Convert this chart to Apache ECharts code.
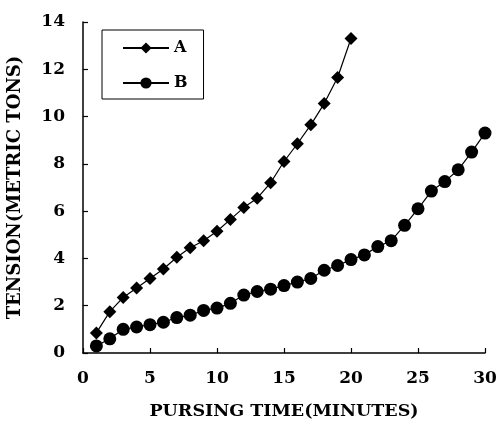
<!DOCTYPE html>
<html>
<head>
<meta charset="utf-8">
<script src="https://cdn.jsdelivr.net/npm/echarts@6/dist/echarts.min.js"></script>
<style>
  html, body { margin: 0; padding: 0; background: #fff; }
  #main { width: 499px; height: 433px; }
</style>
</head>
<body>
<div id="main"></div>
<script>
// 数据
let minutesA = [1,2,3,4,5,6,7,8,9,10,11,12,13,14,15,16,17,18,19,20];
let tensionA = [0.85,1.75,2.35,2.75,3.15,3.55,4.05,4.45,4.75,5.15,5.65,6.15,6.55,7.2,8.1,8.85,9.65,10.55,11.65,13.3];
let minutesB = [1,2,3,4,5,6,7,8,9,10,11,12,13,14,15,16,17,18,19,20,21,22,23,24,25,26,27,28,29,30];
let tensionB = [0.3,0.6,1.0,1.1,1.2,1.3,1.5,1.6,1.8,1.9,2.1,2.45,2.6,2.7,2.85,3.0,3.15,3.5,3.7,3.95,4.15,4.5,4.75,5.4,6.1,6.85,7.25,7.75,8.5,9.3];
let xTicks = [0,5,10,15,20,25,30];
let yTicks = [0,2,4,6,8,10,12,14];

let toPairs = (xs, ys) => xs.map((x, i) => [x, ys[i]]);

let font = 'DejaVu Serif';
let myChart = echarts.init(document.getElementById('main'));
let option = {
    backgroundColor: '#fff',
    animation: false,
    grid: { left: 83, right: 14, top: 22, bottom: 80, outerBoundsMode: 'none', containLabel: false },
    legend: {
        orient: 'vertical',
        left: 102,
        top: 30,
        padding: [10, 16, 8, 20],
        itemWidth: 46,
        itemHeight: 14,
        itemGap: 19,
        borderColor: '#000',
        borderWidth: 1,
        textStyle: { fontFamily: font, fontWeight: 'bold', fontSize: 16, color: '#000' },
        data: ['A', 'B']
    },
    xAxis: {
        type: 'value',
        min: xTicks[0],
        max: xTicks[xTicks.length - 1],
        interval: 5,
        name: 'PURSING TIME(MINUTES)',
        nameLocation: 'middle',
        nameGap: 49,
        nameTextStyle: { fontFamily: font, fontWeight: 'bold', fontSize: 17.5, color: '#000' },
        axisLine: { lineStyle: { color: '#000', width: 1.5 } },
        axisTick: { inside: true, length: 5, lineStyle: { color: '#000', width: 1.2 } },
        axisLabel: { margin: 17, fontFamily: font, fontWeight: 'bold', fontSize: 17, color: '#000' },
        splitLine: { show: false }
    },
    yAxis: {
        type: 'value',
        min: yTicks[0],
        max: yTicks[yTicks.length - 1],
        interval: 2,
        name: 'TENSION(METRIC TONS)',
        nameLocation: 'middle',
        nameRotate: 90,
        nameGap: 59,
        nameTextStyle: { fontFamily: font, fontWeight: 'bold', fontSize: 18, color: '#000' },
        axisLine: { show: true, lineStyle: { color: '#000', width: 1.5 } },
        axisTick: { show: true, inside: true, length: 5, lineStyle: { color: '#000', width: 1.2 } },
        axisLabel: { margin: 18, hideOverlap: false, showMaxLabel: true, fontFamily: font, fontWeight: 'bold', fontSize: 17, color: '#000' },
        splitLine: { show: false }
    },
    series: [
        {
            name: 'A',
            type: 'line',
            data: toPairs(minutesA, tensionA),
            symbol: 'diamond',
            symbolSize: 13,
            showAllSymbol: true,
            itemStyle: { color: '#000' },
            lineStyle: { color: '#000', width: 1.2 }
        },
        {
            name: 'B',
            type: 'line',
            data: toPairs(minutesB, tensionB),
            symbol: 'circle',
            symbolSize: 13,
            showAllSymbol: true,
            itemStyle: { color: '#000' },
            lineStyle: { color: '#000', width: 1.2 }
        }
    ]
};
myChart.setOption(option);
</script>
</body>
</html>
